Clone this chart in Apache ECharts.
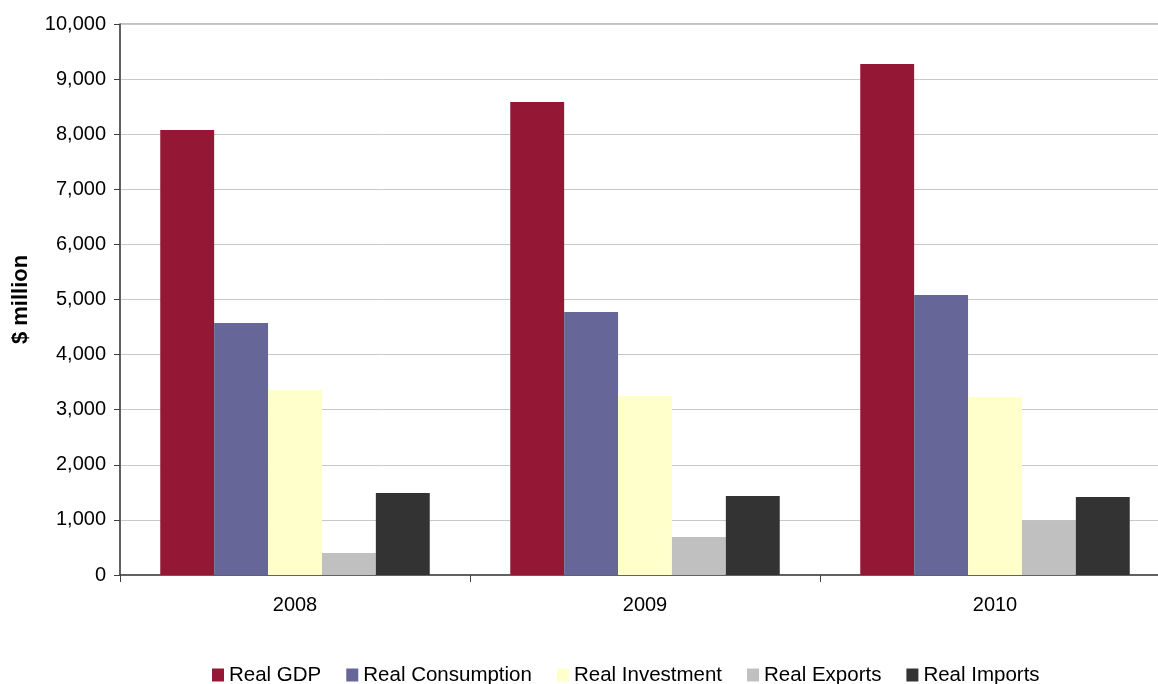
<!DOCTYPE html>
<html>
<head>
<meta charset="utf-8">
<script src="https://cdn.jsdelivr.net/npm/echarts@6/dist/echarts.min.js"></script>
<style>
  html, body { margin: 0; padding: 0; background: #fff; overflow: hidden; }
  /* drawing surface is a little wider than the window so the plot runs past the right edge */
  #chart { width: 1172px; height: 684px; }
</style>
</head>
<body>
<div id="chart"></div>
<script>
// Real national accounts aggregates, $ million
const years = ['2008', '2009', '2010'];
const realGDP = [8076, 8584, 9274];
const realConsumption = [4573, 4773, 5082];
const realInvestment = [3357, 3249, 3230];
const realExports = [399, 690, 995];
const realImports = [1488, 1434, 1416];

const seriesNames = ['Real GDP', 'Real Consumption', 'Real Investment', 'Real Exports', 'Real Imports'];
const seriesColors = ['#941736', '#666699', '#FFFFCC', '#C0C0C0', '#333333'];
const seriesData = [realGDP, realConsumption, realInvestment, realExports, realImports];

const font = 'Liberation Sans, Arial, sans-serif';

const chart = echarts.init(document.getElementById('chart'), null, { renderer: 'canvas' });
chart.setOption({
  animation: false,
  backgroundColor: '#ffffff',
  textStyle: { fontFamily: font },
  grid: {
    left: 120, top: 24, width: 1050, height: 551,
    show: true, borderColor: '#808080', borderWidth: 1, backgroundColor: 'transparent'
  },
  legend: {
    left: 212,
    top: 664,
    padding: 0,
    itemWidth: 12,
    itemHeight: 13,
    itemGap: 25,
    icon: 'rect',
    textStyle: { fontSize: 20.5, color: '#000', fontFamily: font, lineHeight: 22 },
    data: seriesNames
  },
  xAxis: {
    type: 'category',
    data: years,
    axisLine: { lineStyle: { color: '#404040', width: 1.5 } },
    axisTick: { show: true, length: 7, lineStyle: { color: '#404040' } },
    axisLabel: { fontSize: 20, color: '#000', margin: 20, fontFamily: font }
  },
  yAxis: {
    type: 'value',
    min: 0, max: 10000, interval: 1000,
    name: '$ million',
    nameLocation: 'middle',
    nameGap: 88,
    nameTextStyle: { fontSize: 22, fontWeight: 'bold', color: '#000', fontFamily: font },
    axisLine: { show: true, lineStyle: { color: '#404040', width: 1.5 } },
    axisTick: { show: true, length: 6, lineStyle: { color: '#404040' } },
    axisLabel: {
      fontSize: 20, color: '#000', margin: 14, fontFamily: font,
      formatter: v => v.toLocaleString('en-US')
    },
    splitLine: { lineStyle: { color: '#c8c8c8', width: 1 } }
  },
  series: seriesNames.map((name, i) => ({
    name,
    type: 'bar',
    data: seriesData[i],
    barGap: '0%',
    barCategoryGap: '23%',
    itemStyle: { color: seriesColors[i] }
  }))
});
</script>
</body>
</html>
